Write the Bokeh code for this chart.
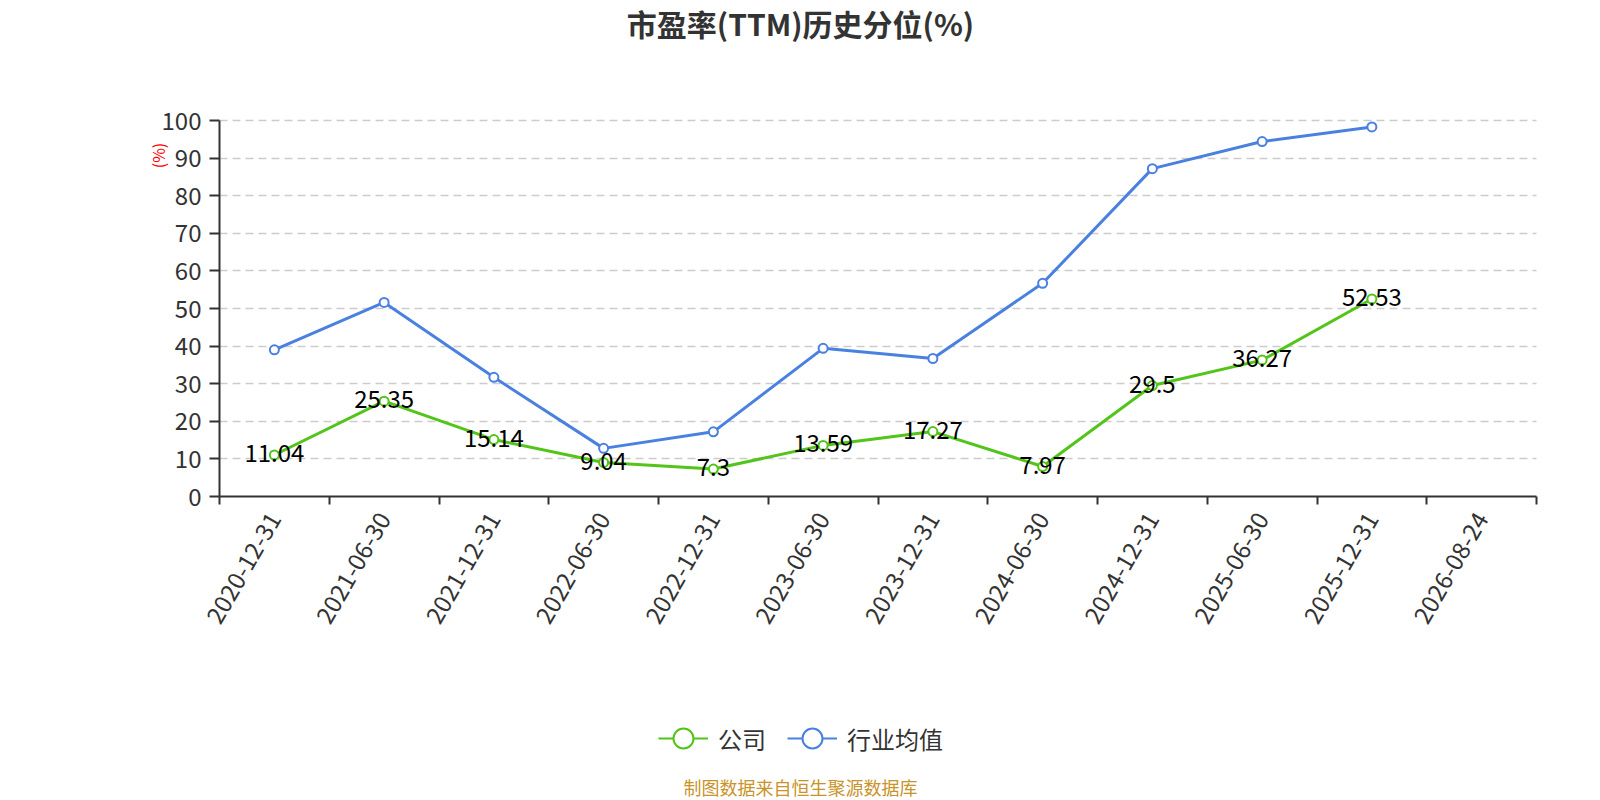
from bokeh.plotting import figure
from bokeh.models import (Range1d, FixedTicker, ColumnDataSource, Label, Legend, LegendItem,
                          LinearAxis, Grid)
from bokeh.core.properties import value
from bokeh.embed import file_html
from bokeh.resources import INLINE
import math

# ---------------- data ----------------
categories = ["2020-12-31", "2021-06-30", "2021-12-31", "2022-06-30", "2022-12-31",
              "2023-06-30", "2023-12-31", "2024-06-30", "2024-12-31", "2025-06-30",
              "2025-12-31", "2026-08-24"]
company = [11.04, 25.35, 15.14, 9.04, 7.3, 13.59, 17.27, 7.97, 29.5, 36.27, 52.53]
industry = [39.0, 51.6, 31.7, 12.8, 17.2, 39.4, 36.7, 56.7, 87.2, 94.4, 98.3]
y_ticks = [0, 10, 20, 30, 40, 50, 60, 70, 80, 90, 100]

title_text = "市盈率(TTM)历史分位(%)"
source_text = "制图数据来自恒生聚源数据库"
y_unit = "(%)"
series_names = ["公司", "行业均值"]

# ---------------- layout / style ----------------
W, H = 1584, 800
AX_L, AX_R, AX_T, AX_B = 219, 1536, 120, 496   # pixel box of the plotting grid
GREEN = "#52c41a"
BLUE = "#4a80e0"
FONT = "Noto Sans CJK SC"
AXIS_COLOR = "#333333"

n = len(categories)
y_min, y_max = y_ticks[0], y_ticks[-1]
ppx = (AX_R - AX_L) / n
ppy = (AX_B - AX_T) / (y_max - y_min)
x_start = -AX_L / ppx
x_end = n + (W - AX_R) / ppx
y_start = y_min - (H - AX_B) / ppy
y_end = y_max + AX_T / ppy


def px_x(px):
    return (px - AX_L) / ppx


def px_y(py):
    return y_min + (AX_B - py) / ppy


p = figure(width=W, height=H, output_backend="svg", toolbar_location=None,
           x_range=Range1d(x_start, x_end), y_range=Range1d(y_start, y_end),
           x_axis_location=None, y_axis_location=None,
           min_border=0, min_border_left=0, min_border_right=0,
           min_border_top=0, min_border_bottom=0)
p.title_location = None
p.outline_line_color = None
p.background_fill_color = "white"
p.border_fill_color = "white"
p.grid.visible = False

# x axis (fixed at y = 0)
xaxis = LinearAxis(fixed_location=y_min, bounds=(0, n))
xaxis.ticker = FixedTicker(ticks=[i + 0.5 for i in range(n)], minor_ticks=list(range(n + 1)))
xaxis.major_label_overrides = {i + 0.5: c for i, c in enumerate(categories)}
xaxis.major_label_orientation = math.pi / 3
xaxis.major_tick_out = 0
xaxis.major_tick_in = 0
xaxis.minor_tick_out = 8
xaxis.minor_tick_in = 0
xaxis.minor_tick_line_color = AXIS_COLOR
xaxis.minor_tick_line_width = 2
xaxis.axis_line_color = AXIS_COLOR
xaxis.axis_line_width = 2
xaxis.major_label_text_font = FONT
xaxis.major_label_text_font_size = "24px"
xaxis.major_label_text_color = AXIS_COLOR
xaxis.major_label_standoff = 10
p.add_layout(xaxis, "below")

# y axis (fixed at x = 0)
yaxis = LinearAxis(fixed_location=0, bounds=(y_min, y_max))
yaxis.ticker = FixedTicker(ticks=y_ticks)
yaxis.major_tick_out = 10
yaxis.major_tick_in = 0
yaxis.minor_tick_line_color = None
yaxis.major_tick_line_color = AXIS_COLOR
yaxis.major_tick_line_width = 2
yaxis.axis_line_color = AXIS_COLOR
yaxis.axis_line_width = 2
yaxis.major_label_text_font = FONT
yaxis.major_label_text_font_size = "24px"
yaxis.major_label_text_color = AXIS_COLOR
yaxis.major_label_standoff = 8
p.add_layout(yaxis, "left")

# horizontal dashed grid lines
if "cross_bounds" in Grid.properties():
    grid = Grid(dimension=1, ticker=FixedTicker(ticks=y_ticks[1:]), cross_bounds=(0, n),
                grid_line_color="#cccccc", grid_line_dash="8 5", grid_line_width=1.5)
    p.add_layout(grid)
else:
    gsrc = ColumnDataSource(dict(y=y_ticks[1:], x0=[0] * (len(y_ticks) - 1), x1=[n] * (len(y_ticks) - 1)))
    p.segment("x0", "y", "x1", "y", source=gsrc, line_color="#cccccc", line_dash="8 5", line_width=1.5)

# series
src_c = ColumnDataSource(dict(x=[i + 0.5 for i in range(len(company))], y=company,
                              t=[f"{v:g}" for v in company]))
src_i = ColumnDataSource(dict(x=[i + 0.5 for i in range(len(industry))], y=industry))

p.line("x", "y", source=src_i, line_color=BLUE, line_width=3)
p.scatter("x", "y", source=src_i, size=9, fill_color="white", line_color=BLUE, line_width=2)
p.line("x", "y", source=src_c, line_color=GREEN, line_width=3)
p.scatter("x", "y", source=src_c, size=9, fill_color="white", line_color=GREEN, line_width=2)
p.text("x", "y", text="t", source=src_c, text_align="center", text_baseline="middle",
       text_font=value(FONT), text_font_size="24px", text_color="black", y_offset=-2)

# legend glyphs: hidden renderers of the same series, drawn with a large open circle
lg_l = p.line("x", "y", source=src_c, line_color=GREEN, line_width=2, visible=False)
lg_s = p.scatter("x", "y", source=src_c, size=22, fill_color="white",
                 line_color=GREEN, line_width=2, visible=False)
lb_l = p.line("x", "y", source=src_i, line_color=BLUE, line_width=2, visible=False)
lb_s = p.scatter("x", "y", source=src_i, size=22, fill_color="white",
                 line_color=BLUE, line_width=2, visible=False)
legend = Legend(items=[LegendItem(label=series_names[0], renderers=[lg_l, lg_s]),
                       LegendItem(label=series_names[1], renderers=[lb_l, lb_s])],
                orientation="horizontal", location=(658, H - 738 - 25),
                glyph_width=50, glyph_height=50, label_standoff=10, spacing=21,
                padding=0, margin=0, border_line_color=None, background_fill_alpha=0,
                inactive_fill_alpha=0,
                label_text_font=FONT, label_text_font_size="24px", label_text_color="#333333")
p.add_layout(legend, "center")

# title, source note, unit
p.add_layout(Label(x=px_x(800), y=px_y(22), text=title_text, text_align="center",
                   text_baseline="middle", text_font=FONT, text_font_size="30px",
                   text_font_style="bold", text_color="#333333"))
p.add_layout(Label(x=px_x(800), y=px_y(786), text=source_text, text_align="center",
                   text_baseline="middle", text_font=FONT, text_font_size="18px",
                   text_color="#c9932a"))
p.add_layout(Label(x=px_x(157), y=px_y(155), text=y_unit, text_align="center",
                   text_baseline="middle", angle=math.pi / 2, text_font=FONT,
                   text_font_size="16px", text_color="red"))

open("out.html", "w").write(file_html(p, INLINE))
